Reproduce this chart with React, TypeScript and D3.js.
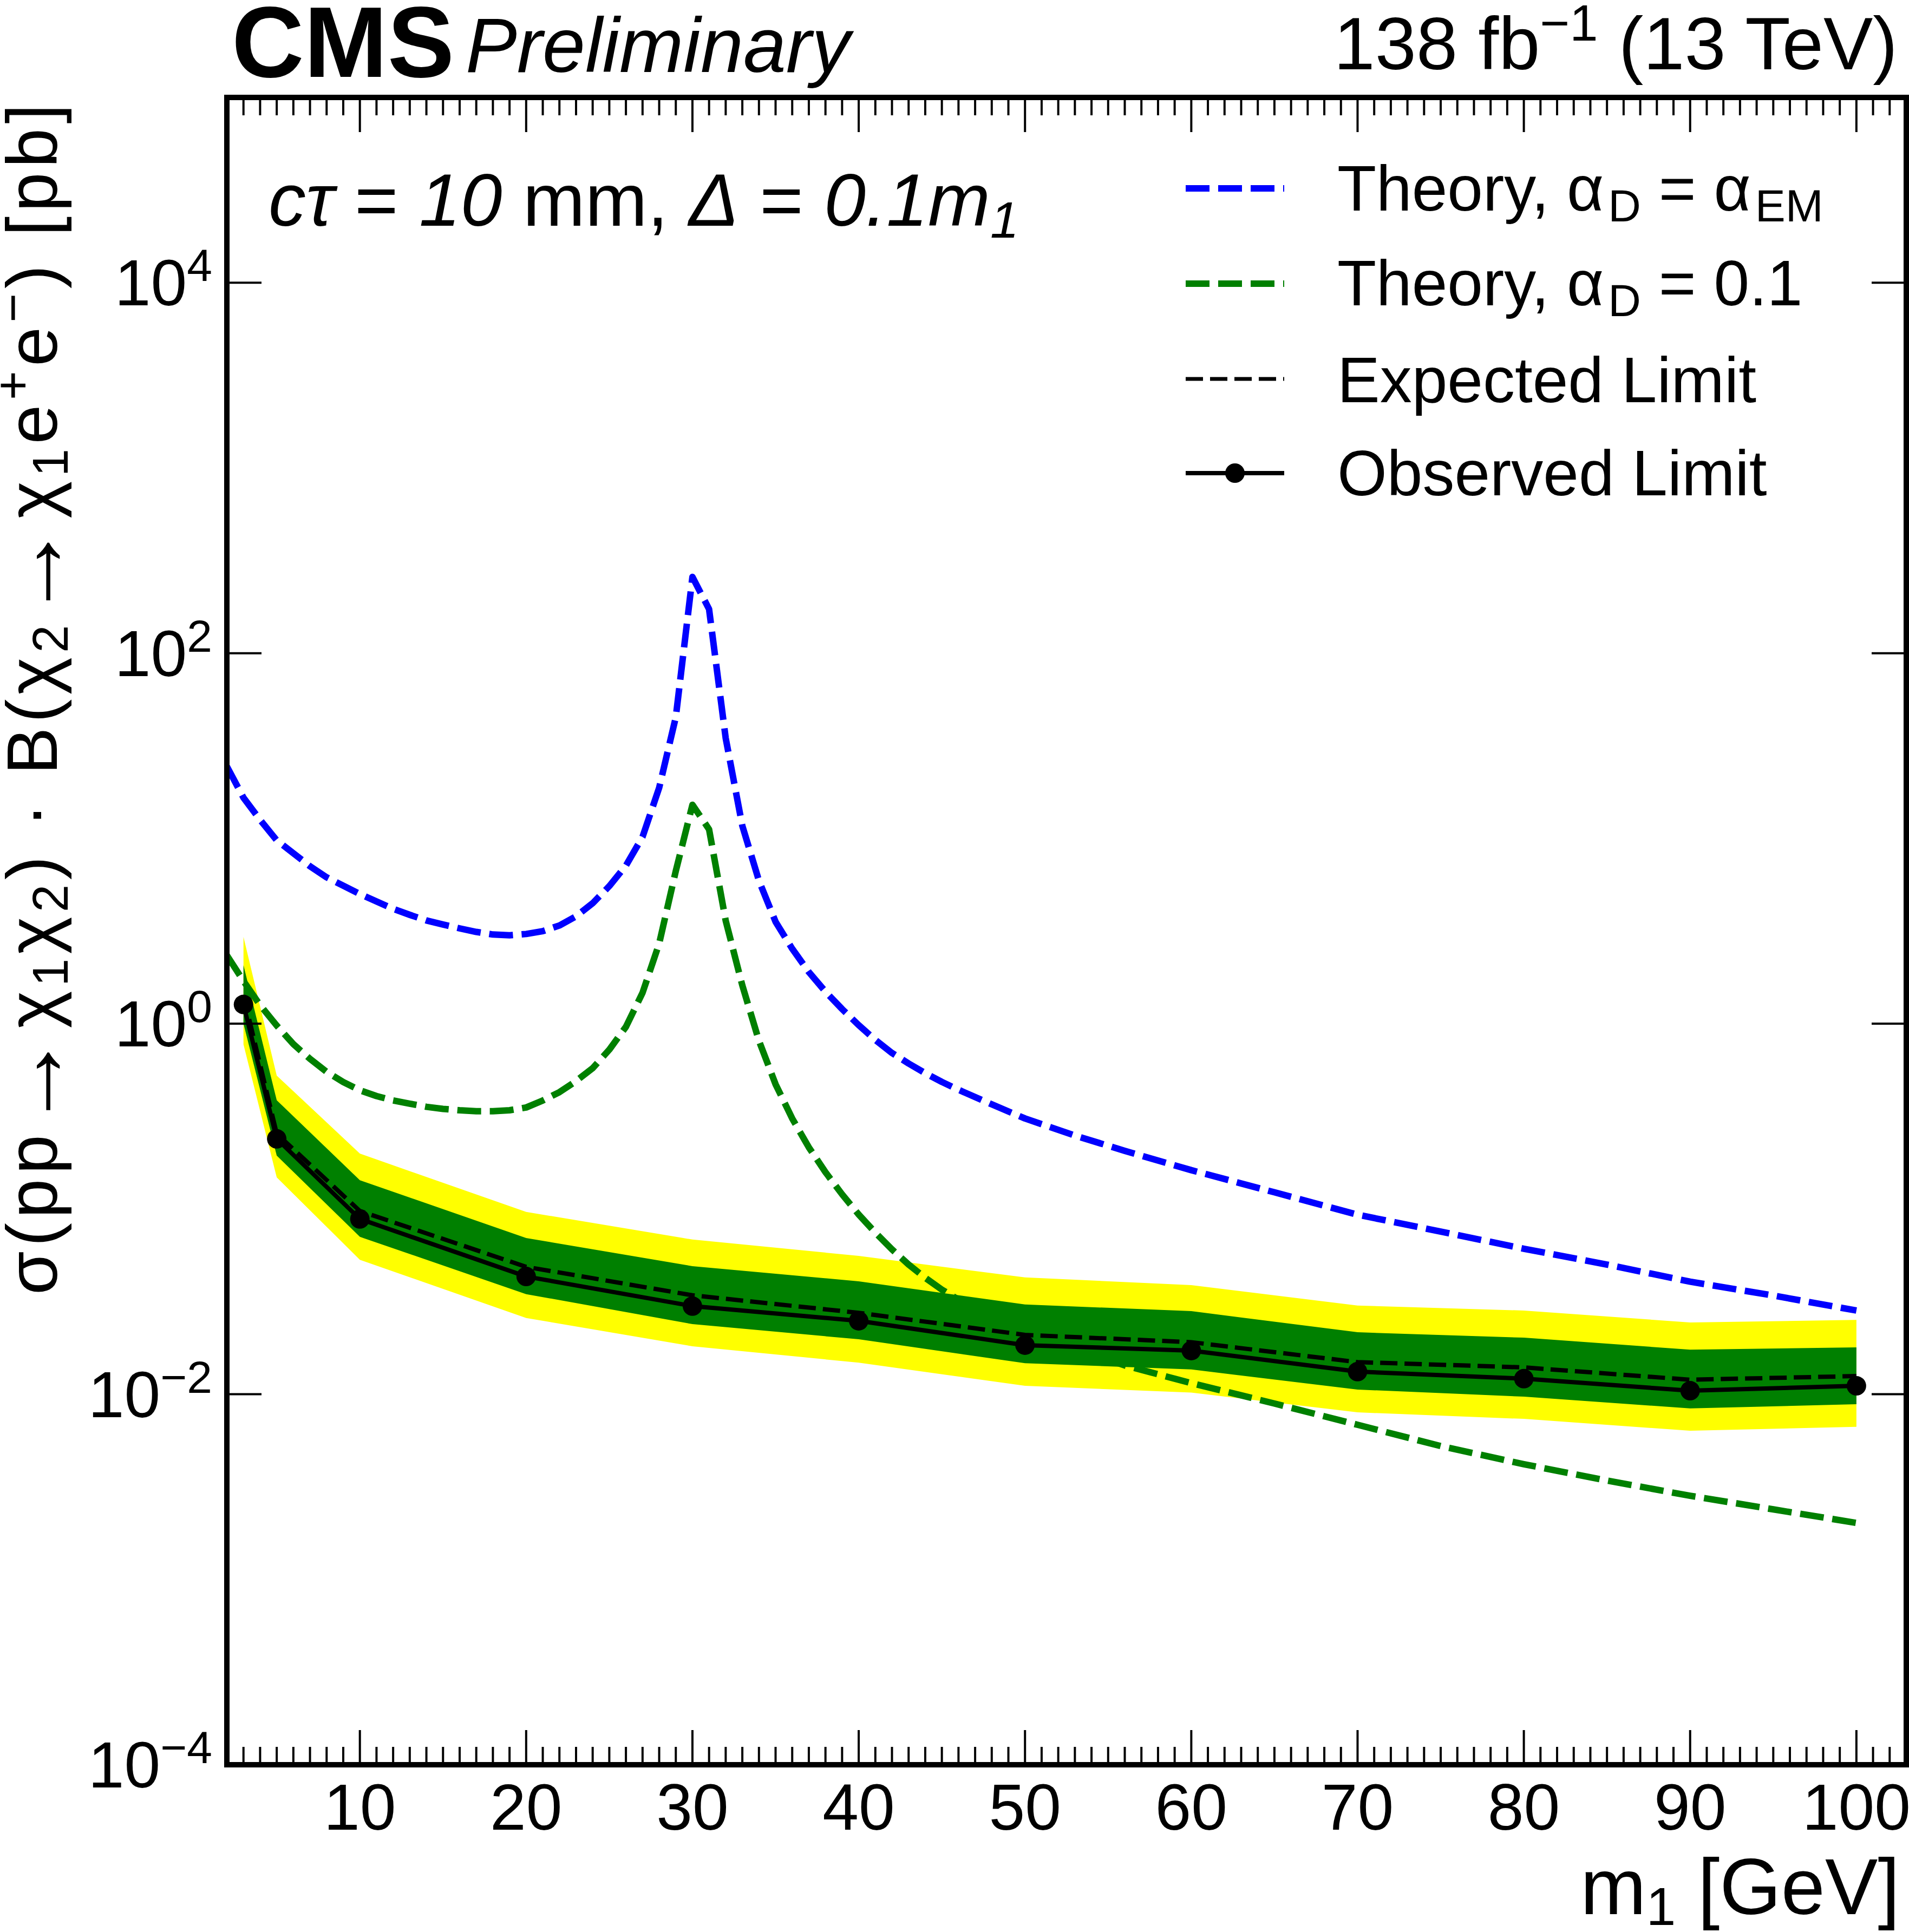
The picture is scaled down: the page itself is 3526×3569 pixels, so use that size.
import React, { useMemo } from "react";
import * as d3 from "d3";

const width = 3526;
const height = 3569;
const frameLeft = 419;
const frameRight = 3521;
const frameTop = 180;
const frameBottom = 3260;

const fontFamily = "'Liberation Sans', Arial, Helvetica, sans-serif";

const blueColor = "#0000ff";
const greenColor = "#008000";
const bandGreen = "#008000";
const bandYellow = "#ffff00";

// limit points, m1 in GeV, cross section in pb
const limitMass = [3, 5, 10, 20, 30, 40, 50, 60, 70, 80, 90, 100];
const observed = [1.27, 0.239, 0.0883, 0.0432, 0.0299, 0.0249, 0.0184, 0.0172, 0.01324, 0.01213, 0.01045, 0.0111];
const expected = [1.42, 0.255, 0.0975, 0.0487, 0.0342, 0.0275, 0.0209, 0.0191, 0.0149, 0.01396, 0.01197, 0.01253];
const oneSigmaUp = [2.07, 0.386, 0.143, 0.0697, 0.0491, 0.0407, 0.0305, 0.0281, 0.0216, 0.0202, 0.0174, 0.0179];
const oneSigmaDown = [1.0, 0.194, 0.0707, 0.0347, 0.0239, 0.0198, 0.0147, 0.0136, 0.0106, 0.0097, 0.00838, 0.00883];
const twoSigmaUp = [2.94, 0.525, 0.199, 0.0964, 0.0684, 0.0558, 0.0427, 0.0388, 0.0301, 0.0283, 0.0244, 0.0252];
const twoSigmaDown = [0.774, 0.148, 0.0532, 0.0258, 0.01815, 0.0148, 0.0111, 0.0102, 0.00798, 0.00736, 0.00635, 0.00667];

// theory curves
const theoryMass = [
    2, 3, 4, 5, 6, 7, 8, 9, 10, 11, 12, 13, 14, 15, 16, 17, 18, 19, 20, 21, 22, 23, 24, 25, 26, 27, 28, 29,
    30, 31, 32, 33, 34, 35, 36, 37, 38, 39, 40, 41, 42, 43, 44, 45, 46, 48, 50, 53, 56, 60, 65, 70, 75, 80,
    85, 90, 95, 100,
];
const theoryEM = [
    24.5, 16.6, 12.6, 9.77, 8.32, 7.08, 6.17, 5.56, 5.01, 4.57, 4.17, 3.87, 3.61, 3.43, 3.27, 3.13, 3.03, 3.0,
    3.05, 3.16, 3.39, 3.8, 4.47, 5.53, 7.14, 10.2, 18.8, 45.2, 258, 173, 34.8, 11.7, 5.92, 3.55, 2.54, 1.9,
    1.49, 1.2, 0.982, 0.817, 0.695, 0.61, 0.541, 0.485, 0.44, 0.367, 0.308, 0.249, 0.206, 0.162, 0.123,
    0.0931, 0.0755, 0.061, 0.0501, 0.0405, 0.0341, 0.0283,
];
const theory01 = [
    2.34, 1.7, 1.26, 0.977, 0.776, 0.646, 0.55, 0.484, 0.437, 0.407, 0.385, 0.37, 0.356, 0.347, 0.341, 0.337,
    0.337, 0.341, 0.353, 0.385, 0.427, 0.49, 0.575, 0.724, 0.962, 1.47, 2.71, 6.68, 15.2, 11.2, 3.6, 1.61,
    0.809, 0.471, 0.308, 0.215, 0.158, 0.12, 0.0933, 0.0745, 0.0605, 0.0501, 0.0425, 0.0367, 0.0324,
    0.0266, 0.0224, 0.0176, 0.0143, 0.01148, 0.00891, 0.00684, 0.00525, 0.00419, 0.00342, 0.00283, 0.00239,
    0.00202,
];

const xMajorTicks = [10, 20, 30, 40, 50, 60, 70, 80, 90, 100];
const yTickExponents = [-4, -2, 0, 2, 4];

const majorLen = 64;
const minorLen = 33;

export default function App() {
    const x = useMemo(() => d3.scaleLinear([2, 103], [frameLeft, frameRight]), []);
    const y = useMemo(() => d3.scaleLog([1e-4, 1e5], [frameBottom, frameTop]), []);

    const xMinorTicks = useMemo(
        () => d3.range(3, 103).filter((v: number) => v % 10 !== 0),
        []
    );

    const bandPath = (lo: number[], hi: number[]) =>
        d3
            .area<number>()
            .x((m: number) => x(m))
            .y0((_: number, i: number) => y(lo[i]))
            .y1((_: number, i: number) => y(hi[i]))(limitMass);

    const seriesPath = (masses: number[], values: number[]) =>
        d3
            .line<number>()
            .x((m: number) => x(m))
            .y((_: number, i: number) => y(values[i]))(masses);

    const legendX0 = 2190;
    const legendX1 = 2372;
    const legendText = 2470;
    const legendRows = [348, 524, 700, 874];

    return (
        <svg
            width={width}
            height={height}
            style={{ position: "absolute", left: 0, top: 0, background: "#fff" }}
            fontFamily={fontFamily}
        >
            <rect x={0} y={0} width={width} height={height} fill="#fff" />
            <defs>
                <clipPath id="frame">
                    <rect x={frameLeft} y={frameTop} width={frameRight - frameLeft} height={frameBottom - frameTop} />
                </clipPath>
            </defs>

            <g clipPath="url(#frame)">
                {/* bands */}
                <path d={bandPath(twoSigmaDown, twoSigmaUp)!} fill={bandYellow} />
                <path d={bandPath(oneSigmaDown, oneSigmaUp)!} fill={bandGreen} />

                {/* theory */}
                <path
                    d={seriesPath(theoryMass, theoryEM)!}
                    fill="none"
                    stroke={blueColor}
                    strokeWidth={12}
                    strokeDasharray="44 16"
                    strokeLinejoin="round"
                />
                <path
                    d={seriesPath(theoryMass, theory01)!}
                    fill="none"
                    stroke={greenColor}
                    strokeWidth={12}
                    strokeDasharray="44 16"
                    strokeLinejoin="round"
                />

                {/* limits */}
                <path
                    d={seriesPath(limitMass, expected)!}
                    fill="none"
                    stroke="#000"
                    strokeWidth={8}
                    strokeDasharray="32 13"
                />
                <path d={seriesPath(limitMass, observed)!} fill="none" stroke="#000" strokeWidth={8} />
                {limitMass.map((m: number, i: number) => (
                    <circle key={m} cx={x(m)} cy={y(observed[i])} r={18} fill="#000" />
                ))}
            </g>

            {/* ticks */}
            <g stroke="#000" strokeWidth={4}>
                {xMajorTicks.map((m: number) => (
                    <React.Fragment key={"M" + m}>
                        <line x1={x(m)} x2={x(m)} y1={frameBottom} y2={frameBottom - majorLen} />
                        <line x1={x(m)} x2={x(m)} y1={frameTop} y2={frameTop + majorLen} />
                    </React.Fragment>
                ))}
                {xMinorTicks.map((m: number) => (
                    <React.Fragment key={"m" + m}>
                        <line x1={x(m)} x2={x(m)} y1={frameBottom} y2={frameBottom - minorLen} />
                        <line x1={x(m)} x2={x(m)} y1={frameTop} y2={frameTop + minorLen} />
                    </React.Fragment>
                ))}
                {yTickExponents.map((e: number) => (
                    <React.Fragment key={"y" + e}>
                        <line x1={frameLeft} x2={frameLeft + majorLen} y1={y(10 ** e)} y2={y(10 ** e)} />
                        <line x1={frameRight} x2={frameRight - majorLen} y1={y(10 ** e)} y2={y(10 ** e)} />
                    </React.Fragment>
                ))}
            </g>

            {/* frame */}
            <rect
                x={frameLeft}
                y={frameTop}
                width={frameRight - frameLeft}
                height={frameBottom - frameTop}
                fill="none"
                stroke="#000"
                strokeWidth={10}
            />

            {/* tick labels */}
            {xMajorTicks.map((m: number) => (
                <text key={"xl" + m} x={x(m)} y={3380} fontSize={120} textAnchor="middle">
                    {m}
                </text>
            ))}
            {yTickExponents.map((e: number) => (
                <text key={"yl" + e} x={392} y={y(10 ** e) + 42} fontSize={120} textAnchor="end">
                    10
                    <tspan fontSize={84} dy={-45}>
                        {e < 0 ? "\u2212" + Math.abs(e) : e}
                    </tspan>
                </text>
            ))}

            {/* axis titles */}
            <text x={3509} y={3536} fontSize={146} textAnchor="end">
                m
                <tspan fontSize={98} dy={20}>
                    1
                </tspan>
                <tspan dy={-20}> [GeV]</tspan>
            </text>
            <text
                transform="translate(105,192) rotate(-90)"
                fontSize={131}
                textAnchor="end"
                textLength={2200}
                lengthAdjust="spacing"
            >
                σ(pp
                <tspan fontSize={180} dy={14}>→</tspan>
                <tspan dy={-14}>χ</tspan>
                <tspan fontSize={92} dy={20}>1</tspan>
                <tspan dy={-20}>χ</tspan>
                <tspan fontSize={92} dy={20}>2</tspan>
                <tspan dy={-20}>)  ·  B(χ</tspan>
                <tspan fontSize={92} dy={20}>2</tspan>
                <tspan fontSize={180} dy={-6}>→</tspan>
                <tspan dy={-14}>χ</tspan>
                <tspan fontSize={92} dy={20}>1</tspan>
                <tspan dy={-20}>e</tspan>
                <tspan fontSize={92} dy={-50}>+</tspan>
                <tspan dy={50}>e</tspan>
                <tspan fontSize={92} dy={-50}>−</tspan>
                <tspan dy={50}>) [pb]</tspan>
            </text>

            {/* header */}
            <text x={428} y={142} fontSize={185} fontWeight="bold">
                CMS
            </text>
            <text x={860} y={133} fontSize={142} fontStyle="italic">
                Preliminary
            </text>
            <text x={3505} y={128} fontSize={137} textAnchor="end">
                138 fb
                <tspan fontSize={94} dy={-53}>
                    −1
                </tspan>
                <tspan dy={53}> (13 TeV)</tspan>
            </text>

            {/* model label */}
            <text x={496} y={417} fontSize={138}>
                <tspan fontStyle="italic">cτ</tspan>
                <tspan> = </tspan>
                <tspan fontStyle="italic">10</tspan>
                <tspan> mm, </tspan>
                <tspan fontStyle="italic">Δ</tspan>
                <tspan> = </tspan>
                <tspan fontStyle="italic">0.1m</tspan>
                <tspan fontStyle="italic" fontSize={95} dy={22}>
                    1
                </tspan>
            </text>

            {/* legend */}
            <line
                x1={legendX0}
                x2={legendX1}
                y1={legendRows[0]}
                y2={legendRows[0]}
                stroke={blueColor}
                strokeWidth={12}
                strokeDasharray="44 16"
            />
            <line
                x1={legendX0}
                x2={legendX1}
                y1={legendRows[1]}
                y2={legendRows[1]}
                stroke={greenColor}
                strokeWidth={12}
                strokeDasharray="44 16"
            />
            <line
                x1={legendX0}
                x2={legendX1}
                y1={legendRows[2]}
                y2={legendRows[2]}
                stroke="#000"
                strokeWidth={7}
                strokeDasharray="32 13"
            />
            <line x1={legendX0} x2={legendX1} y1={legendRows[3]} y2={legendRows[3]} stroke="#000" strokeWidth={8} />
            <circle cx={(legendX0 + legendX1) / 2} cy={legendRows[3]} r={18} fill="#000" />

            <text x={legendText} y={legendRows[0] + 41} fontSize={118}>
                Theory, α
                <tspan fontSize={84} dy={20} dx={8}>
                    D
                </tspan>
                <tspan dy={-20}> = α</tspan>
                <tspan fontSize={84} dy={20} dx={8}>
                    EM
                </tspan>
            </text>
            <text x={legendText} y={legendRows[1] + 40} fontSize={118}>
                Theory, α
                <tspan fontSize={84} dy={20} dx={8}>
                    D
                </tspan>
                <tspan dy={-20}> = 0.1</tspan>
            </text>
            <text x={legendText} y={legendRows[2] + 43} fontSize={118}>
                Expected Limit
            </text>
            <text x={legendText} y={legendRows[3] + 41} fontSize={118}>
                Observed Limit
            </text>
        </svg>
    );
}
